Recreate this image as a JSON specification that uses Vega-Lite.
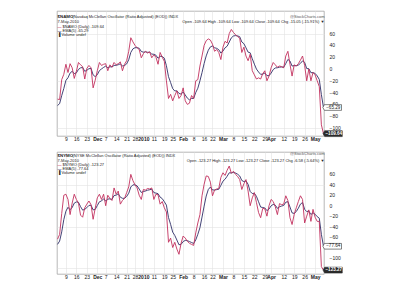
{
"$schema": "https://vega.github.io/schema/vega-lite/v6.json",
"background": "white",
"padding": {"left": 55, "top": 10, "right": 0, "bottom": 0},
"config": {
  "font": "Liberation Sans",
  "view": {"stroke": "#9a9a9a", "strokeWidth": 0.7},
  "axis": {"labelFont": "Liberation Sans", "labelFontSize": 5, "labelColor": "#222", "gridColor": "#e3e3e3", "gridWidth": 0.6, "domain": false, "ticks": false, "title": null, "labelOverlap": false},
  "text": {"font": "Liberation Sans", "fontSize": 4, "color": "#222", "baseline": "middle"}
},
"datasets": {"osc": [
{"date":"2009-11-03","namo":-51,"namo_ema":-62,"nymo":-64,"nymo_ema":-74},
{"date":"2009-11-04","namo":-52,"namo_ema":-58.7,"nymo":-55,"nymo_ema":-67.7},
{"date":"2009-11-05","namo":-18,"namo_ema":-45.1,"nymo":-15,"nymo_ema":-50.1},
{"date":"2009-11-06","namo":-9,"namo_ema":-33.1,"nymo":20,"nymo_ema":-26.7},
{"date":"2009-11-09","namo":8,"namo_ema":-19.4,"nymo":22,"nymo_ema":-10.5},
{"date":"2009-11-10","namo":-6,"namo_ema":-14.9,"nymo":12,"nymo_ema":-3.0},
{"date":"2009-11-11","namo":9,"namo_ema":-6.9,"nymo":-17,"nymo_ema":-7.7},
{"date":"2009-11-12","namo":2,"namo_ema":-3.9,"nymo":5,"nymo_ema":-3.5},
{"date":"2009-11-13","namo":-16,"namo_ema":-7.9,"nymo":22,"nymo_ema":5.0},
{"date":"2009-11-16","namo":-4,"namo_ema":-6.6,"nymo":12,"nymo_ema":7.3},
{"date":"2009-11-17","namo":11,"namo_ema":-0.7,"nymo":5,"nymo_ema":6.5},
{"date":"2009-11-18","namo":7,"namo_ema":1.9,"nymo":-18,"nymo_ema":-1.7},
{"date":"2009-11-19","namo":4,"namo_ema":2.6,"nymo":-22,"nymo_ema":-8.5},
{"date":"2009-11-20","namo":-17,"namo_ema":-3.9,"nymo":-4,"nymo_ema":-7.0},
{"date":"2009-11-23","namo":1,"namo_ema":-2.3,"nymo":3,"nymo_ema":-3.7},
{"date":"2009-11-24","namo":6,"namo_ema":0.5,"nymo":9,"nymo_ema":0.5},
{"date":"2009-11-25","namo":2,"namo_ema":1.0,"nymo":2,"nymo_ema":1.0},
{"date":"2009-11-27","namo":-32,"namo_ema":-10.0,"nymo":-26,"nymo_ema":-8.0},
{"date":"2009-11-30","namo":-19,"namo_ema":-13.0,"nymo":-5,"nymo_ema":-7.0},
{"date":"2009-12-01","namo":-3,"namo_ema":-9.7,"nymo":15,"nymo_ema":0.3},
{"date":"2009-12-02","namo":11,"namo_ema":-2.8,"nymo":22,"nymo_ema":7.5},
{"date":"2009-12-03","namo":6,"namo_ema":0.1,"nymo":12,"nymo_ema":9.0},
{"date":"2009-12-04","namo":8,"namo_ema":2.7,"nymo":22,"nymo_ema":13.3},
{"date":"2009-12-07","namo":9,"namo_ema":4.8,"nymo":0,"nymo_ema":8.9},
{"date":"2009-12-08","namo":-3,"namo_ema":2.2,"nymo":20,"nymo_ema":12.6},
{"date":"2009-12-09","namo":7,"namo_ema":3.8,"nymo":14,"nymo_ema":13.1},
{"date":"2009-12-10","namo":3,"namo_ema":3.5,"nymo":10,"nymo_ema":12.1},
{"date":"2009-12-11","namo":11,"namo_ema":6.0,"nymo":34,"nymo_ema":19.4},
{"date":"2009-12-14","namo":7,"namo_ema":6.3,"nymo":22,"nymo_ema":20.3},
{"date":"2009-12-15","namo":9,"namo_ema":7.2,"nymo":28,"nymo_ema":22.9},
{"date":"2009-12-16","namo":12,"namo_ema":8.8,"nymo":3,"nymo_ema":16.3},
{"date":"2009-12-17","namo":-3,"namo_ema":4.9,"nymo":10,"nymo_ema":14.2},
{"date":"2009-12-18","namo":8,"namo_ema":5.9,"nymo":14,"nymo_ema":14.1},
{"date":"2009-12-21","namo":14,"namo_ema":8.6,"nymo":25,"nymo_ema":17.7},
{"date":"2009-12-22","namo":30,"namo_ema":15.7,"nymo":36,"nymo_ema":23.8},
{"date":"2009-12-23","namo":53,"namo_ema":28.1,"nymo":60,"nymo_ema":35.9},
{"date":"2009-12-24","namo":46,"namo_ema":34.1,"nymo":48,"nymo_ema":39.9},
{"date":"2009-12-28","namo":40,"namo_ema":36.1,"nymo":40,"nymo_ema":39.9},
{"date":"2009-12-29","namo":36,"namo_ema":36.1,"nymo":34,"nymo_ema":37.9},
{"date":"2009-12-30","namo":33,"namo_ema":35.1,"nymo":20,"nymo_ema":31.9},
{"date":"2009-12-31","namo":19,"namo_ema":29.7,"nymo":12,"nymo_ema":25.3},
{"date":"2010-01-04","namo":26,"namo_ema":28.5,"nymo":31,"nymo_ema":27.2},
{"date":"2010-01-05","namo":30,"namo_ema":29.0,"nymo":30,"nymo_ema":28.1},
{"date":"2010-01-06","namo":27,"namo_ema":28.3,"nymo":33,"nymo_ema":29.7},
{"date":"2010-01-07","namo":29,"namo_ema":28.5,"nymo":32,"nymo_ema":30.5},
{"date":"2010-01-08","namo":19,"namo_ema":25.3,"nymo":34,"nymo_ema":31.7},
{"date":"2010-01-11","namo":24,"namo_ema":24.9,"nymo":12,"nymo_ema":25.1},
{"date":"2010-01-12","namo":20,"namo_ema":23.3,"nymo":22,"nymo_ema":24.1},
{"date":"2010-01-13","namo":8,"namo_ema":18.2,"nymo":21,"nymo_ema":23.1},
{"date":"2010-01-14","namo":28,"namo_ema":21.5,"nymo":3,"nymo_ema":16.4},
{"date":"2010-01-15","namo":20,"namo_ema":21.0,"nymo":8,"nymo_ema":13.6},
{"date":"2010-01-19","namo":13,"namo_ema":18.3,"nymo":-4,"nymo_ema":7.7},
{"date":"2010-01-20","namo":-20,"namo_ema":5.5,"nymo":-12,"nymo_ema":1.1},
{"date":"2010-01-21","namo":-50,"namo_ema":-13.0,"nymo":-70,"nymo_ema":-22.6},
{"date":"2010-01-22","namo":-43,"namo_ema":-23.0,"nymo":-62,"nymo_ema":-35.7},
{"date":"2010-01-25","namo":-54,"namo_ema":-33.3,"nymo":-80,"nymo_ema":-50.5},
{"date":"2010-01-26","namo":-45,"namo_ema":-37.2,"nymo":-70,"nymo_ema":-57.0},
{"date":"2010-01-27","namo":-37,"namo_ema":-37.1,"nymo":-83,"nymo_ema":-65.7},
{"date":"2010-01-28","namo":-50,"namo_ema":-41.4,"nymo":-93,"nymo_ema":-74.8},
{"date":"2010-01-29","namo":-45,"namo_ema":-42.6,"nymo":-72,"nymo_ema":-73.9},
{"date":"2010-02-01","namo":-32,"namo_ema":-39.1,"nymo":-58,"nymo_ema":-68.6},
{"date":"2010-02-02","namo":-54,"namo_ema":-44.1,"nymo":-62,"nymo_ema":-66.4},
{"date":"2010-02-03","namo":-60,"namo_ema":-49.4,"nymo":-68,"nymo_ema":-66.9},
{"date":"2010-02-04","namo":-58,"namo_ema":-52.3,"nymo":-72,"nymo_ema":-68.6},
{"date":"2010-02-05","namo":-45,"namo_ema":-49.9,"nymo":-74,"nymo_ema":-70.4},
{"date":"2010-02-08","namo":-50,"namo_ema":-49.9,"nymo":-76,"nymo_ema":-72.3},
{"date":"2010-02-09","namo":-20,"namo_ema":-39.9,"nymo":-52,"nymo_ema":-65.5},
{"date":"2010-02-10","namo":-18,"namo_ema":-32.6,"nymo":-33,"nymo_ema":-54.7},
{"date":"2010-02-11","namo":5,"namo_ema":-20.1,"nymo":-17,"nymo_ema":-42.1},
{"date":"2010-02-12","namo":22,"namo_ema":-6.1,"nymo":19,"nymo_ema":-21.7},
{"date":"2010-02-16","namo":40,"namo_ema":9.3,"nymo":41,"nymo_ema":-0.8},
{"date":"2010-02-17","namo":48,"namo_ema":22.2,"nymo":57,"nymo_ema":18.5},
{"date":"2010-02-18","namo":51,"namo_ema":31.8,"nymo":56,"nymo_ema":31.0},
{"date":"2010-02-19","namo":49,"namo_ema":37.5,"nymo":45,"nymo_ema":35.7},
{"date":"2010-02-22","namo":42,"namo_ema":39.0,"nymo":19,"nymo_ema":30.1},
{"date":"2010-02-23","namo":30,"namo_ema":36.0,"nymo":30,"nymo_ema":30.1},
{"date":"2010-02-24","namo":33,"namo_ema":35.0,"nymo":32,"nymo_ema":30.7},
{"date":"2010-02-25","namo":28,"namo_ema":32.7,"nymo":33,"nymo_ema":31.5},
{"date":"2010-02-26","namo":16,"namo_ema":27.1,"nymo":54,"nymo_ema":39.0},
{"date":"2010-03-01","namo":37,"namo_ema":30.4,"nymo":63,"nymo_ema":47.0},
{"date":"2010-03-02","namo":47,"namo_ema":35.9,"nymo":58,"nymo_ema":50.7},
{"date":"2010-03-03","namo":44,"namo_ema":38.6,"nymo":68,"nymo_ema":56.5},
{"date":"2010-03-04","namo":60,"namo_ema":45.7,"nymo":76,"nymo_ema":63.0},
{"date":"2010-03-05","namo":67,"namo_ema":52.8,"nymo":62,"nymo_ema":62.7},
{"date":"2010-03-08","namo":62,"namo_ema":55.9,"nymo":66,"nymo_ema":63.8},
{"date":"2010-03-09","namo":58,"namo_ema":56.6,"nymo":60,"nymo_ema":62.5},
{"date":"2010-03-10","namo":55,"namo_ema":56.1,"nymo":56,"nymo_ema":60.3},
{"date":"2010-03-11","namo":52,"namo_ema":54.7,"nymo":50,"nymo_ema":56.9},
{"date":"2010-03-12","namo":28,"namo_ema":45.8,"nymo":31,"nymo_ema":48.3},
{"date":"2010-03-15","namo":37,"namo_ema":42.9,"nymo":42,"nymo_ema":46.2},
{"date":"2010-03-16","namo":22,"namo_ema":35.9,"nymo":50,"nymo_ema":47.5},
{"date":"2010-03-17","namo":14,"namo_ema":28.6,"nymo":28,"nymo_ema":41.0},
{"date":"2010-03-18","namo":25,"namo_ema":27.4,"nymo":0,"nymo_ema":27.3},
{"date":"2010-03-19","namo":-3,"namo_ema":17.3,"nymo":15,"nymo_ema":23.2},
{"date":"2010-03-22","namo":-10,"namo_ema":8.2,"nymo":25,"nymo_ema":23.8},
{"date":"2010-03-23","namo":-17,"namo_ema":-0.2,"nymo":6,"nymo_ema":17.9},
{"date":"2010-03-24","namo":-15,"namo_ema":-5.1,"nymo":-13,"nymo_ema":7.6},
{"date":"2010-03-25","namo":-17,"namo_ema":-9.1,"nymo":-23,"nymo_ema":-2.6},
{"date":"2010-03-26","namo":-8,"namo_ema":-8.7,"nymo":-5,"nymo_ema":-3.4},
{"date":"2010-03-29","namo":-3,"namo_ema":-6.8,"nymo":-6,"nymo_ema":-4.3},
{"date":"2010-03-30","namo":-20,"namo_ema":-11.2,"nymo":-20,"nymo_ema":-9.5},
{"date":"2010-03-31","namo":-12,"namo_ema":-11.5,"nymo":0,"nymo_ema":-6.3},
{"date":"2010-04-01","namo":2,"namo_ema":-7.0,"nymo":12,"nymo_ema":-0.2},
{"date":"2010-04-05","namo":11,"namo_ema":-1.0,"nymo":8,"nymo_ema":2.5},
{"date":"2010-04-06","namo":7,"namo_ema":1.7,"nymo":-2,"nymo_ema":1.0},
{"date":"2010-04-07","namo":3,"namo_ema":2.1,"nymo":-17,"nymo_ema":-5.0},
{"date":"2010-04-08","namo":5,"namo_ema":3.1,"nymo":4,"nymo_ema":-2.0},
{"date":"2010-04-09","namo":4,"namo_ema":3.4,"nymo":2,"nymo_ema":-0.7},
{"date":"2010-04-12","namo":2,"namo_ema":2.9,"nymo":3,"nymo_ema":0.5},
{"date":"2010-04-13","namo":22,"namo_ema":9.3,"nymo":19,"nymo_ema":6.7},
{"date":"2010-04-14","namo":30,"namo_ema":16.2,"nymo":10,"nymo_ema":7.8},
{"date":"2010-04-15","namo":8,"namo_ema":13.5,"nymo":-23,"nymo_ema":-2.5},
{"date":"2010-04-16","namo":-12,"namo_ema":5.0,"nymo":-36,"nymo_ema":-13.7},
{"date":"2010-04-19","namo":7,"namo_ema":5.7,"nymo":-17,"nymo_ema":-14.8},
{"date":"2010-04-20","namo":5,"namo_ema":5.5,"nymo":-4,"nymo_ema":-11.2},
{"date":"2010-04-21","namo":9,"namo_ema":6.7,"nymo":8,"nymo_ema":-4.8},
{"date":"2010-04-22","namo":15,"namo_ema":9.5,"nymo":19,"nymo_ema":3.1},
{"date":"2010-04-23","namo":22,"namo_ema":13.7,"nymo":12,"nymo_ema":6.1},
{"date":"2010-04-26","namo":6,"namo_ema":11.1,"nymo":-33,"nymo_ema":-6.9},
{"date":"2010-04-27","namo":-20,"namo_ema":0.7,"nymo":-20,"nymo_ema":-11.3},
{"date":"2010-04-28","namo":0,"namo_ema":0.5,"nymo":-8,"nymo_ema":-10.2},
{"date":"2010-04-29","namo":-20,"namo_ema":-6.3,"nymo":-30,"nymo_ema":-16.8},
{"date":"2010-04-30","namo":-6,"namo_ema":-6.2,"nymo":-7,"nymo_ema":-13.5},
{"date":"2010-05-03","namo":-10,"namo_ema":-7.5,"nymo":-22,"nymo_ema":-16.3},
{"date":"2010-05-04","namo":-20,"namo_ema":-11.7,"nymo":-30,"nymo_ema":-20.9},
{"date":"2010-05-05","namo":-30,"namo_ema":-17.8,"nymo":-30,"nymo_ema":-23.9},
{"date":"2010-05-06","namo":-94.59,"namo_ema":-43.4,"nymo":-116.69,"nymo_ema":-54.8},
{"date":"2010-05-07","namo":-109.64,"namo_ema":-65.29,"nymo":-123.27,"nymo_ema":-77.64}
]},
"data": {"name": "osc"},
"spacing": 9,
"vconcat": [
{
  "width": 267, "height": 125,
  "layer": [
    {"mark": {"type": "line", "color": "#2e2e66", "strokeWidth": 0.9},
     "encoding": {
       "x": {"field": "date", "type": "ordinal", "sort": null, "scale": {"type": "point", "padding": 0.25},
             "axis": {"values": ["2009-11-09","2009-11-16","2009-11-23","2009-12-01","2009-12-07","2009-12-14","2009-12-21","2009-12-28","2010-01-04","2010-01-11","2010-01-19","2010-01-25","2010-02-01","2010-02-08","2010-02-16","2010-02-22","2010-03-01","2010-03-08","2010-03-15","2010-03-22","2010-03-29","2010-04-01","2010-04-12","2010-04-19","2010-04-26","2010-05-03"],
                      "labelAngle": 0, "labelPadding": 2, "grid": true, "labelBaseline": "middle", "labelOverlap": false,
                      "labelExpr": "datum.value == '2009-12-01' ? 'Dec' : datum.value == '2010-01-04' ? '2010' : datum.value == '2010-02-01' ? 'Feb' : datum.value == '2010-03-01' ? 'Mar' : datum.value == '2010-04-01' ? 'Apr' : datum.value == '2010-05-03' ? 'May' : '' + toNumber(substring(datum.value, 8, 10))",
                      "labelFontWeight": {"condition": {"test": "indexof(['2009-12-01','2010-01-04','2010-02-01','2010-03-01','2010-04-01','2010-05-03'], datum.value) >= 0", "value": "bold"}, "value": "normal"}}},
       "y": {"field": "namo_ema", "type": "quantitative", "scale": {"domain": [-113.6, 98.3], "nice": false, "zero": false},
             "axis": {"orient": "right", "values": [-100,-80,-60,-40,-20,0,20,40,60,80], "labels": false, "grid": true}}
     }},
    {"mark": {"type": "line", "color": "#c2305e", "strokeWidth": 0.9},
     "encoding": {"x": {"field": "date", "type": "ordinal", "sort": null}, "y": {"field": "namo", "type": "quantitative"}}},
    {"data": {"values": [{"v": 60}, {"v": 40}, {"v": 20}, {"v": 0}, {"v": -20}, {"v": -40}, {"v": -60}, {"v": -80}, {"v": -100}]},
     "mark": {"type": "text", "align": "left", "dx": 6, "fontSize": 5},
     "encoding": {"x": {"datum": "2010-05-07", "type": "ordinal"}, "y": {"field": "v", "type": "quantitative"}, "text": {"field": "v", "type": "quantitative"}}},
    {"transform": [{"filter": "datum.date == '2010-05-07'"}],
     "mark": {"type": "point", "shape": "M-1.6,0L-1.35,-0.45H1.35V0.45H-1.35Z", "size": 160, "filled": true, "fill": "white", "stroke": "#333", "strokeWidth": 0.6, "opacity": 1, "xOffset": 9.5},
     "encoding": {"x": {"field": "date", "type": "ordinal", "sort": null}, "y": {"field": "namo_ema", "type": "quantitative"}}},
    {"transform": [{"filter": "datum.date == '2010-05-07'"}],
     "mark": {"type": "text", "fontSize": 4.6, "dx": 9.8, "align": "center", "color": "#222"},
     "encoding": {"x": {"field": "date", "type": "ordinal", "sort": null}, "y": {"field": "namo_ema", "type": "quantitative"}, "text": {"field": "namo_ema", "type": "quantitative", "format": ".2f"}}},
    {"transform": [{"filter": "datum.date == '2010-05-07'"}],
     "mark": {"type": "point", "shape": "M-1.6,0L-1.35,-0.45H1.35V0.45H-1.35Z", "size": 170, "filled": true, "fill": "#2a2a2a", "stroke": "#2a2a2a", "strokeWidth": 0.6, "opacity": 1, "xOffset": 10},
     "encoding": {"x": {"field": "date", "type": "ordinal", "sort": null}, "y": {"field": "namo", "type": "quantitative"}}},
    {"transform": [{"filter": "datum.date == '2010-05-07'"}],
     "mark": {"type": "text", "fontSize": 4.6, "dx": 10.3, "align": "center", "color": "white", "fontWeight": "bold"},
     "encoding": {"x": {"field": "date", "type": "ordinal", "sort": null}, "y": {"field": "namo", "type": "quantitative"}, "text": {"field": "namo", "type": "quantitative", "format": ".2f"}}},
    {"data": {"values": [{"t": "$NAMO"}]}, "mark": {"type": "text", "align": "left", "fontWeight": "bold", "fontSize": 4.4},
     "encoding": {"x": {"datum": "2009-11-03", "type": "ordinal"}, "y": {"datum": 88.6, "type": "quantitative"}, "text": {"field": "t"}}},
    {"data": {"values": [{"t": "(Nasdaq McClellan Oscillator (Ratio Adjusted) (EOD)) INDX"}]}, "mark": {"type": "text", "align": "left", "dx": 15},
     "encoding": {"x": {"datum": "2009-11-03", "type": "ordinal"}, "y": {"datum": 88.6, "type": "quantitative"}, "text": {"field": "t"}}},
    {"data": {"values": [{"t": "@StockCharts.com"}]}, "mark": {"type": "text", "align": "right", "color": "#555", "dx": 1},
     "encoding": {"x": {"datum": "2010-05-07", "type": "ordinal"}, "y": {"datum": 88.6, "type": "quantitative"}, "text": {"field": "t"}}},
    {"data": {"values": [{"t": "7-May-2010"}]}, "mark": {"type": "text", "align": "left"},
     "encoding": {"x": {"datum": "2009-11-03", "type": "ordinal"}, "y": {"datum": 80.2, "type": "quantitative"}, "text": {"field": "t"}}},
    {"data": {"values": [{"t": "Open -109.64  High -109.64  Low -109.64  Close -109.64  Chg -15.05 (-15.91%) \u25bc"}]}, "mark": {"type": "text", "align": "right", "dx": 1},
     "encoding": {"x": {"datum": "2010-05-07", "type": "ordinal"}, "y": {"datum": 80.2, "type": "quantitative"}, "text": {"field": "t"}}},
    {"data": {"values": [{"t": "\u2014"}]}, "mark": {"type": "text", "align": "left", "color": "#c2305e", "fontWeight": "bold"},
     "encoding": {"x": {"datum": "2009-11-03", "type": "ordinal"}, "y": {"datum": 71.9, "type": "quantitative"}, "text": {"field": "t"}}},
    {"data": {"values": [{"t": "$NAMO (Daily) -109.64"}]}, "mark": {"type": "text", "align": "left", "dx": 5},
     "encoding": {"x": {"datum": "2009-11-03", "type": "ordinal"}, "y": {"datum": 71.9, "type": "quantitative"}, "text": {"field": "t"}}},
    {"data": {"values": [{"t": "\u2014"}]}, "mark": {"type": "text", "align": "left", "color": "#2e2e66", "fontWeight": "bold"},
     "encoding": {"x": {"datum": "2009-11-03", "type": "ordinal"}, "y": {"datum": 64.8, "type": "quantitative"}, "text": {"field": "t"}}},
    {"data": {"values": [{"t": "EMA(5) -65.29"}]}, "mark": {"type": "text", "align": "left", "dx": 5},
     "encoding": {"x": {"datum": "2009-11-03", "type": "ordinal"}, "y": {"datum": 64.8, "type": "quantitative"}, "text": {"field": "t"}}},
    {"data": {"values": [{"t": "\u2590 Volume undef"}]}, "mark": {"type": "text", "align": "left"},
     "encoding": {"x": {"datum": "2009-11-03", "type": "ordinal"}, "y": {"datum": 57.6, "type": "quantitative"}, "text": {"field": "t"}}}
  ]
},
{
  "width": 267, "height": 122,
  "layer": [
    {"mark": {"type": "line", "color": "#2e2e66", "strokeWidth": 0.9},
     "encoding": {
       "x": {"field": "date", "type": "ordinal", "sort": null, "scale": {"type": "point", "padding": 0.25},
             "axis": {"values": ["2009-11-09","2009-11-16","2009-11-23","2009-12-01","2009-12-07","2009-12-14","2009-12-21","2009-12-28","2010-01-04","2010-01-11","2010-01-19","2010-01-25","2010-02-01","2010-02-08","2010-02-16","2010-02-22","2010-03-01","2010-03-08","2010-03-15","2010-03-22","2010-03-29","2010-04-01","2010-04-12","2010-04-19","2010-04-26","2010-05-03"],
                      "labelAngle": 0, "labelPadding": 2, "grid": true, "labelBaseline": "middle", "labelOverlap": false,
                      "labelExpr": "datum.value == '2009-12-01' ? 'Dec' : datum.value == '2010-01-04' ? '2010' : datum.value == '2010-02-01' ? 'Feb' : datum.value == '2010-03-01' ? 'Mar' : datum.value == '2010-04-01' ? 'Apr' : datum.value == '2010-05-03' ? 'May' : '' + toNumber(substring(datum.value, 8, 10))",
                      "labelFontWeight": {"condition": {"test": "indexof(['2009-12-01','2010-01-04','2010-02-01','2010-03-01','2010-04-01','2010-05-03'], datum.value) >= 0", "value": "bold"}, "value": "normal"}}},
       "y": {"field": "nymo_ema", "type": "quantitative", "scale": {"domain": [-130.7, 102.8], "nice": false, "zero": false},
             "axis": {"orient": "right", "values": [-120,-100,-80,-60,-40,-20,0,20,40,60,80], "labels": false, "grid": true}}
     }},
    {"mark": {"type": "line", "color": "#c2305e", "strokeWidth": 0.9},
     "encoding": {"x": {"field": "date", "type": "ordinal", "sort": null}, "y": {"field": "nymo", "type": "quantitative"}}},
    {"data": {"values": [{"v": 60}, {"v": 40}, {"v": 20}, {"v": 0}, {"v": -20}, {"v": -40}, {"v": -60}, {"v": -100}]},
     "mark": {"type": "text", "align": "left", "dx": 6, "fontSize": 5},
     "encoding": {"x": {"datum": "2010-05-07", "type": "ordinal"}, "y": {"field": "v", "type": "quantitative"}, "text": {"field": "v", "type": "quantitative"}}},
    {"transform": [{"filter": "datum.date == '2010-05-07'"}],
     "mark": {"type": "point", "shape": "M-1.6,0L-1.35,-0.45H1.35V0.45H-1.35Z", "size": 160, "filled": true, "fill": "white", "stroke": "#333", "strokeWidth": 0.6, "opacity": 1, "xOffset": 9.5},
     "encoding": {"x": {"field": "date", "type": "ordinal", "sort": null}, "y": {"field": "nymo_ema", "type": "quantitative"}}},
    {"transform": [{"filter": "datum.date == '2010-05-07'"}],
     "mark": {"type": "text", "fontSize": 4.6, "dx": 9.8, "align": "center", "color": "#222"},
     "encoding": {"x": {"field": "date", "type": "ordinal", "sort": null}, "y": {"field": "nymo_ema", "type": "quantitative"}, "text": {"field": "nymo_ema", "type": "quantitative", "format": ".2f"}}},
    {"transform": [{"filter": "datum.date == '2010-05-07'"}],
     "mark": {"type": "point", "shape": "M-1.6,0L-1.35,-0.45H1.35V0.45H-1.35Z", "size": 170, "filled": true, "fill": "#2a2a2a", "stroke": "#2a2a2a", "strokeWidth": 0.6, "opacity": 1, "xOffset": 10},
     "encoding": {"x": {"field": "date", "type": "ordinal", "sort": null}, "y": {"field": "nymo", "type": "quantitative"}}},
    {"transform": [{"filter": "datum.date == '2010-05-07'"}],
     "mark": {"type": "text", "fontSize": 4.6, "dx": 10.3, "align": "center", "color": "white", "fontWeight": "bold"},
     "encoding": {"x": {"field": "date", "type": "ordinal", "sort": null}, "y": {"field": "nymo", "type": "quantitative"}, "text": {"field": "nymo", "type": "quantitative", "format": ".2f"}}},
    {"data": {"values": [{"t": "$NYMO"}]}, "mark": {"type": "text", "align": "left", "fontWeight": "bold", "fontSize": 4.4},
     "encoding": {"x": {"datum": "2009-11-03", "type": "ordinal"}, "y": {"datum": 95.1, "type": "quantitative"}, "text": {"field": "t"}}},
    {"data": {"values": [{"t": "(NYSE McClellan Oscillator (Ratio Adjusted) (EOD)) INDX"}]}, "mark": {"type": "text", "align": "left", "dx": 15},
     "encoding": {"x": {"datum": "2009-11-03", "type": "ordinal"}, "y": {"datum": 95.1, "type": "quantitative"}, "text": {"field": "t"}}},
    {"data": {"values": [{"t": "@StockCharts.com"}]}, "mark": {"type": "text", "align": "right", "color": "#555", "dx": 1},
     "encoding": {"x": {"datum": "2010-05-07", "type": "ordinal"}, "y": {"datum": 99, "type": "quantitative"}, "text": {"field": "t"}}},
    {"data": {"values": [{"t": "7-May-2010"}]}, "mark": {"type": "text", "align": "left"},
     "encoding": {"x": {"datum": "2009-11-03", "type": "ordinal"}, "y": {"datum": 86.5, "type": "quantitative"}, "text": {"field": "t"}}},
    {"data": {"values": [{"t": "Open -123.27  High -123.27  Low -123.27  Close -123.27  Chg -6.58 (-5.64%) \u25bc"}]}, "mark": {"type": "text", "align": "right", "dx": 1},
     "encoding": {"x": {"datum": "2010-05-07", "type": "ordinal"}, "y": {"datum": 86.5, "type": "quantitative"}, "text": {"field": "t"}}},
    {"data": {"values": [{"t": "\u2014"}]}, "mark": {"type": "text", "align": "left", "color": "#c2305e", "fontWeight": "bold"},
     "encoding": {"x": {"datum": "2009-11-03", "type": "ordinal"}, "y": {"datum": 77.9, "type": "quantitative"}, "text": {"field": "t"}}},
    {"data": {"values": [{"t": "$NYMO (Daily) -123.27"}]}, "mark": {"type": "text", "align": "left", "dx": 5},
     "encoding": {"x": {"datum": "2009-11-03", "type": "ordinal"}, "y": {"datum": 77.9, "type": "quantitative"}, "text": {"field": "t"}}},
    {"data": {"values": [{"t": "\u2014"}]}, "mark": {"type": "text", "align": "left", "color": "#2e2e66", "fontWeight": "bold"},
     "encoding": {"x": {"datum": "2009-11-03", "type": "ordinal"}, "y": {"datum": 69.9, "type": "quantitative"}, "text": {"field": "t"}}},
    {"data": {"values": [{"t": "EMA(5) -77.64"}]}, "mark": {"type": "text", "align": "left", "dx": 5},
     "encoding": {"x": {"datum": "2009-11-03", "type": "ordinal"}, "y": {"datum": 69.9, "type": "quantitative"}, "text": {"field": "t"}}},
    {"data": {"values": [{"t": "\u2590 Volume undef"}]}, "mark": {"type": "text", "align": "left"},
     "encoding": {"x": {"datum": "2009-11-03", "type": "ordinal"}, "y": {"datum": 61.8, "type": "quantitative"}, "text": {"field": "t"}}}
  ]
}
]
}
